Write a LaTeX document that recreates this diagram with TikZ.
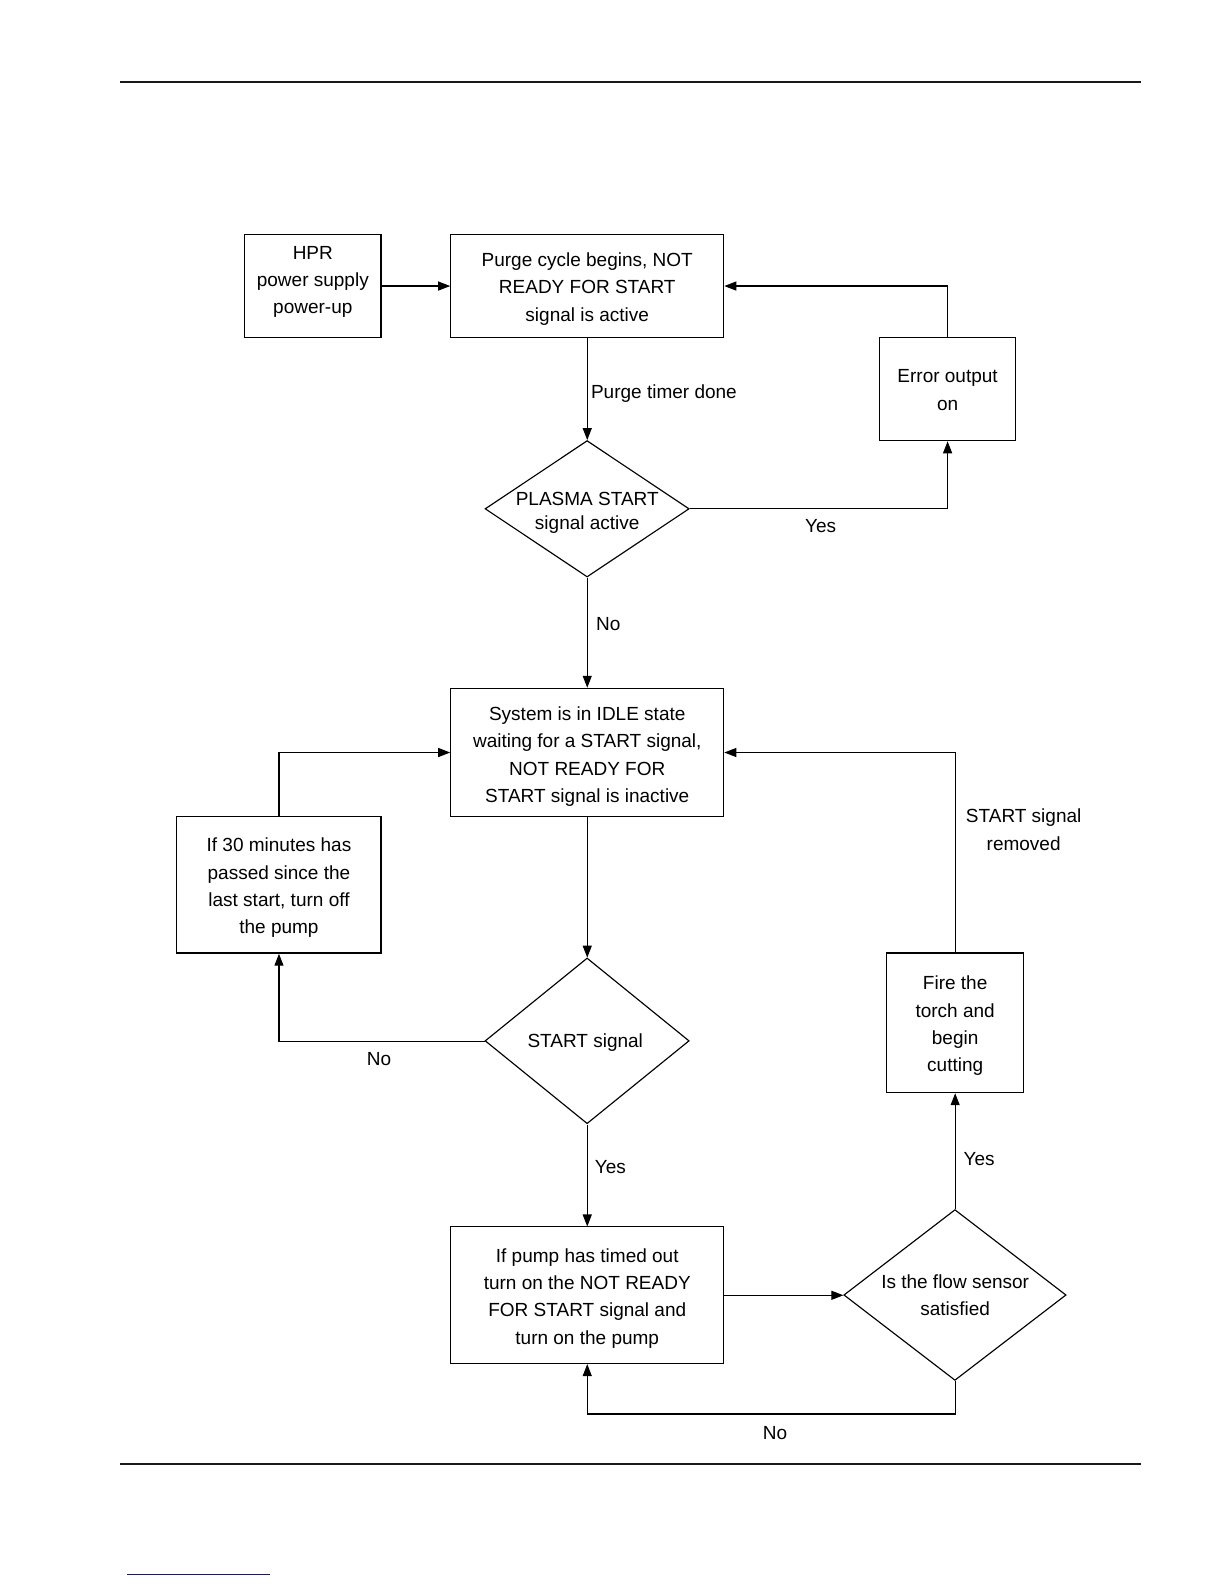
\documentclass[tikz,border=0pt]{standalone}
\usepackage{fontspec}
\setmainfont{Liberation Sans}
\usetikzlibrary{shapes.geometric,arrows.meta}
\definecolor{rulenavy}{RGB}{20,20,130}
\tikzset{
  box/.style={draw, line width=1.15pt, rectangle, inner sep=0pt},
  boxtext/.style={align=center, inner sep=0pt, yshift=-3pt,
    font=\fontsize{18.8}{27}\selectfont},
  decision/.style={draw, line width=1.15pt, diamond, inner sep=0pt},
  dtext/.style={align=center, inner sep=0pt, font=\fontsize{18.8}{24}\selectfont},
  flowlabel/.style={align=center, font=\fontsize{18.8}{27}\selectfont, inner sep=0pt},
  arr/.style={line width=1.15pt, -{Triangle[length=12pt,width=9pt]}},
}
\begin{document}
\begin{tikzpicture}[x=1pt, y=-1pt, scale=1.0105, transform shape]
\useasboundingbox (0,0) rectangle (1211.3,1567.5);
% page rules
\draw[line width=2.4pt, black!90] (119,81) -- (1129,81);
\draw[line width=2.4pt, black!90] (119,1449) -- (1129,1449);
\draw[line width=1.4pt, rulenavy] (126,1558) -- (267,1558);

% boxes
\node[box, minimum width=135pt, minimum height=102pt,
  label={[boxtext, yshift=7pt]center:{HPR\\power supply\\power-up}}] (hpr) at (309.5,283) {};
\node[box, minimum width=270pt, minimum height=102pt,
  label={[boxtext]center:{Purge cycle begins, NOT\\READY FOR START\\signal is active}}] (purge) at (581,283) {};
\node[box, minimum width=135pt, minimum height=102pt,
  label={[boxtext, yshift=2pt]center:{Error output\\on}}] (err) at (937.5,385) {};
\node[decision, minimum width=202pt, minimum height=135pt,
  label={[dtext, yshift=-4pt]center:{PLASMA START\\signal active}}] (d1) at (581,503.5) {};
\node[box, minimum width=270pt, minimum height=127pt,
  label={[boxtext, yshift=-1pt]center:{System is in IDLE state\\waiting for a START signal,\\NOT READY FOR\\START signal is inactive}}] (idle) at (581,744.5) {};
\node[box, minimum width=202pt, minimum height=135pt,
  label={[boxtext]center:{If 30 minutes has\\passed since the\\last start, turn off\\the pump}}] (mins) at (276,875.5) {};
\node[decision, minimum width=202pt, minimum height=164pt,
  label={[dtext, xshift=-2pt, yshift=-1pt]center:{START signal}}] (d2) at (581,1030) {};
\node[box, minimum width=135pt, minimum height=138pt,
  label={[boxtext]center:{Fire the\\torch and\\begin\\cutting}}] (fire) at (945,1012) {};
\node[box, minimum width=270pt, minimum height=135pt,
  label={[boxtext]center:{If pump has timed out\\turn on the NOT READY\\FOR START signal and\\turn on the pump}}] (pump) at (581,1281.5) {};
\node[decision, minimum width=220pt, minimum height=169pt,
  label={[boxtext, yshift=3pt]center:{Is the flow sensor\\satisfied}}] (flow) at (945,1281.5) {};

\coordinate (fb) at (945,1399);

% connectors
\draw[arr] (hpr.east) -- (purge.west);
\draw[arr] (err.north) |- (purge.east);
\draw[arr] (purge.south) -- (d1.north);
\draw[arr] (d1.east) -| (err.south);
\draw[arr] (d1.south) -- (idle.north);
\draw[arr] (idle.south) -- (d2.north);
\draw[arr] (d2.west) -| (mins.south);
\draw[arr] (mins.north) |- (idle.west);
\draw[arr] (d2.south) -- (pump.north);
\draw[arr] (pump.east) -- (flow.west);
\draw[arr] (flow.south) -- (fb) -| (pump.south);
\draw[arr] (flow.north) -- (fire.south);
\draw[arr] (fire.north) |- (idle.east);

% connector labels
\node[flowlabel] (lpt) at (657,389) {Purge timer done};
\node[flowlabel] (ly1) at (812,521) {Yes};
\node[flowlabel] (ln1) at (602,618) {No};
\node[flowlabel] (ln2) at (375,1048) {No};
\node[flowlabel] (ly2) at (604,1155) {Yes};
\node[flowlabel] (ln3) at (767,1418) {No};
\node[flowlabel] (ly3) at (969,1147) {Yes};
\node[flowlabel] (lsr) at (1013,821) {START signal\\removed};
\end{tikzpicture}
\end{document}
